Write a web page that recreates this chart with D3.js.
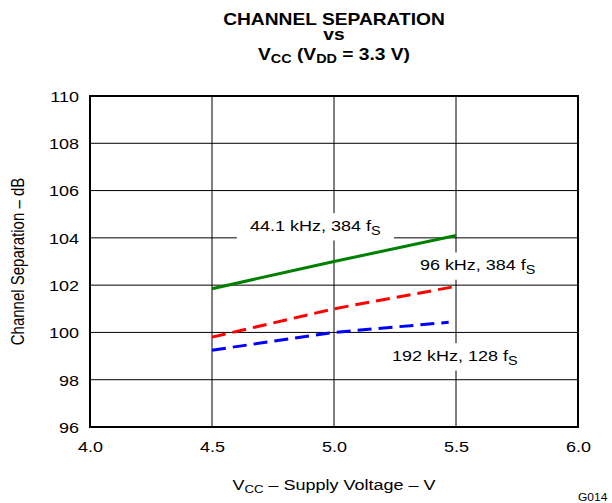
<!DOCTYPE html>
<html>
<head>
<meta charset="utf-8">
<script src="https://cdn.jsdelivr.net/npm/d3@7"></script>
<style>
  body { margin: 0; background: #fff; }
  text { font-family: "Liberation Sans", Arial, sans-serif; fill: #000; }
  .title { font-weight: bold; font-size: 16px; text-anchor: middle; }
  .tick text { font-size: 15px; }
  .axis-label { font-size: 15px; text-anchor: middle; }
  .note { font-size: 15px; }
</style>
</head>
<body>
<svg id="chart" width="612" height="503"></svg>
<script>
// DATA
const supplyVoltage = [4.5, 5.0, 5.5];
const sep441 = [101.85, 103.0, 104.1];      // 44.1 kHz, 384 fS
const sep96 = [99.8, 101.0, 101.95];        // 96 kHz, 384 fS
const sep192V = [4.5, 5.0, 5.47];
const sep192 = [99.25, 100.0, 100.43];      // 192 kHz, 128 fS
const xTicks = [4.0, 4.5, 5.0, 5.5, 6.0];
const yTicks = [96, 98, 100, 102, 104, 106, 108, 110];

// the reference text is drawn a bit wide, so stretch it sideways
const sx = 1.2;

// SETUP
const margin = { top: 96, right: 34, bottom: 76, left: 90 },
      width = 612 - margin.left - margin.right,
      height = 503 - margin.top - margin.bottom;

const svg = d3.select("#chart");
const g = svg.append("g")
    .attr("transform", `translate(${margin.left},${margin.top})`);

// SCALES
const x = d3.scaleLinear().domain([4.0, 6.0]).range([0, width]);
const y = d3.scaleLinear().domain([96, 110]).range([height, 0]);

// GRID
g.append("g")
  .selectAll("line")
  .data(yTicks)
  .enter().append("line")
  .attr("x1", 0).attr("x2", width)
  .attr("y1", d => y(d)).attr("y2", d => y(d))
  .attr("stroke", "#000").attr("stroke-width", 1);

g.append("g")
  .selectAll("line")
  .data(xTicks)
  .enter().append("line")
  .attr("y1", 0).attr("y2", height)
  .attr("x1", d => x(d)).attr("x2", d => x(d))
  .attr("stroke", "#000").attr("stroke-width", 1);

// AXES (labels only)
const xAxis = g.append("g")
  .attr("transform", `translate(0,${height})`)
  .call(d3.axisBottom(x).tickValues(xTicks).tickFormat(d3.format(".1f")).tickSize(0).tickPadding(14));
xAxis.select(".domain").remove();
xAxis.selectAll(".tick text").attr("transform", `scale(${sx},1)`);

const yAxis = g.append("g")
  .call(d3.axisLeft(y).tickValues(yTicks).tickSize(0).tickPadding(11));
yAxis.select(".domain").remove();
yAxis.selectAll(".tick text")
  .attr("dy", "0.36em")
  .attr("x", -11 / sx)
  .attr("transform", `scale(${sx},1)`);

// LINES
const line = d3.line().x(d => x(d[0])).y(d => y(d[1]));

g.append("path")
  .datum(d3.zip(supplyVoltage, sep96))
  .attr("d", line).attr("fill", "none")
  .attr("stroke", "#ff0000").attr("stroke-width", 3)
  .attr("stroke-dasharray", "14,7");

g.append("path")
  .datum(d3.zip(sep192V, sep192))
  .attr("d", line).attr("fill", "none")
  .attr("stroke", "#0000ff").attr("stroke-width", 3)
  .attr("stroke-dasharray", "14,7");

g.append("path")
  .datum(d3.zip(supplyVoltage, sep441))
  .attr("d", line).attr("fill", "none")
  .attr("stroke", "#008000").attr("stroke-width", 3);

// NOTES with white boxes over the grid
function note(xv, yv, main, sub) {
  const ng = g.append("g")
    .attr("transform", `translate(${x(xv)},${y(yv)}) scale(${sx},1)`);
  const t = ng.append("text").attr("class", "note");
  t.append("tspan").text(main);
  t.append("tspan").attr("font-size", "12px").attr("dy", "4").text(sub);
  const bb = t.node().getBBox();
  ng.insert("rect", "text")
    .attr("x", bb.x - 11).attr("y", bb.y - 4)
    .attr("width", bb.width + 22).attr("height", bb.height + 7)
    .attr("fill", "#fff");
}

note(4.656, 104.3, "44.1 kHz, 384 f", "S");
note(5.352, 102.64, "96 kHz, 384 f", "S");
note(5.238, 98.8, "192 kHz, 128 f", "S");

// border on top
g.append("rect")
  .attr("width", width).attr("height", height)
  .attr("fill", "none").attr("stroke", "#000").attr("stroke-width", 2);

// stretched text helper
function wideText(px, py, cls) {
  return svg.append("text").attr("class", cls)
    .attr("transform", `translate(${px},${py}) scale(${sx},1)`);
}

// TITLE
const cx = margin.left + width / 2;
wideText(cx, 25, "title").text("CHANNEL SEPARATION");
wideText(cx, 40, "title").text("vs");
const t3 = wideText(cx, 60, "title");
t3.append("tspan").text("V");
t3.append("tspan").attr("font-size", "12px").attr("dy", 3).text("CC");
t3.append("tspan").attr("dy", -3).text(" (V");
t3.append("tspan").attr("font-size", "12px").attr("dy", 3).text("DD");
t3.append("tspan").attr("dy", -3).text(" = 3.3 V)");

// AXIS LABELS
const xl = wideText(cx, 490, "axis-label");
xl.append("tspan").text("V");
xl.append("tspan").attr("font-size", "11px").attr("dy", 3).text("CC");
xl.append("tspan").attr("dy", -3).text(" \u2013 Supply Voltage \u2013 V");

svg.append("text").attr("class", "axis-label")
  .attr("transform", `translate(24,${margin.top + height / 2}) rotate(-90) scale(1,${sx})`)
  .text("Channel Separation \u2013 dB");

wideText(578, 501, "").attr("font-size", "10px").text("G014");
</script>
</body>
</html>
